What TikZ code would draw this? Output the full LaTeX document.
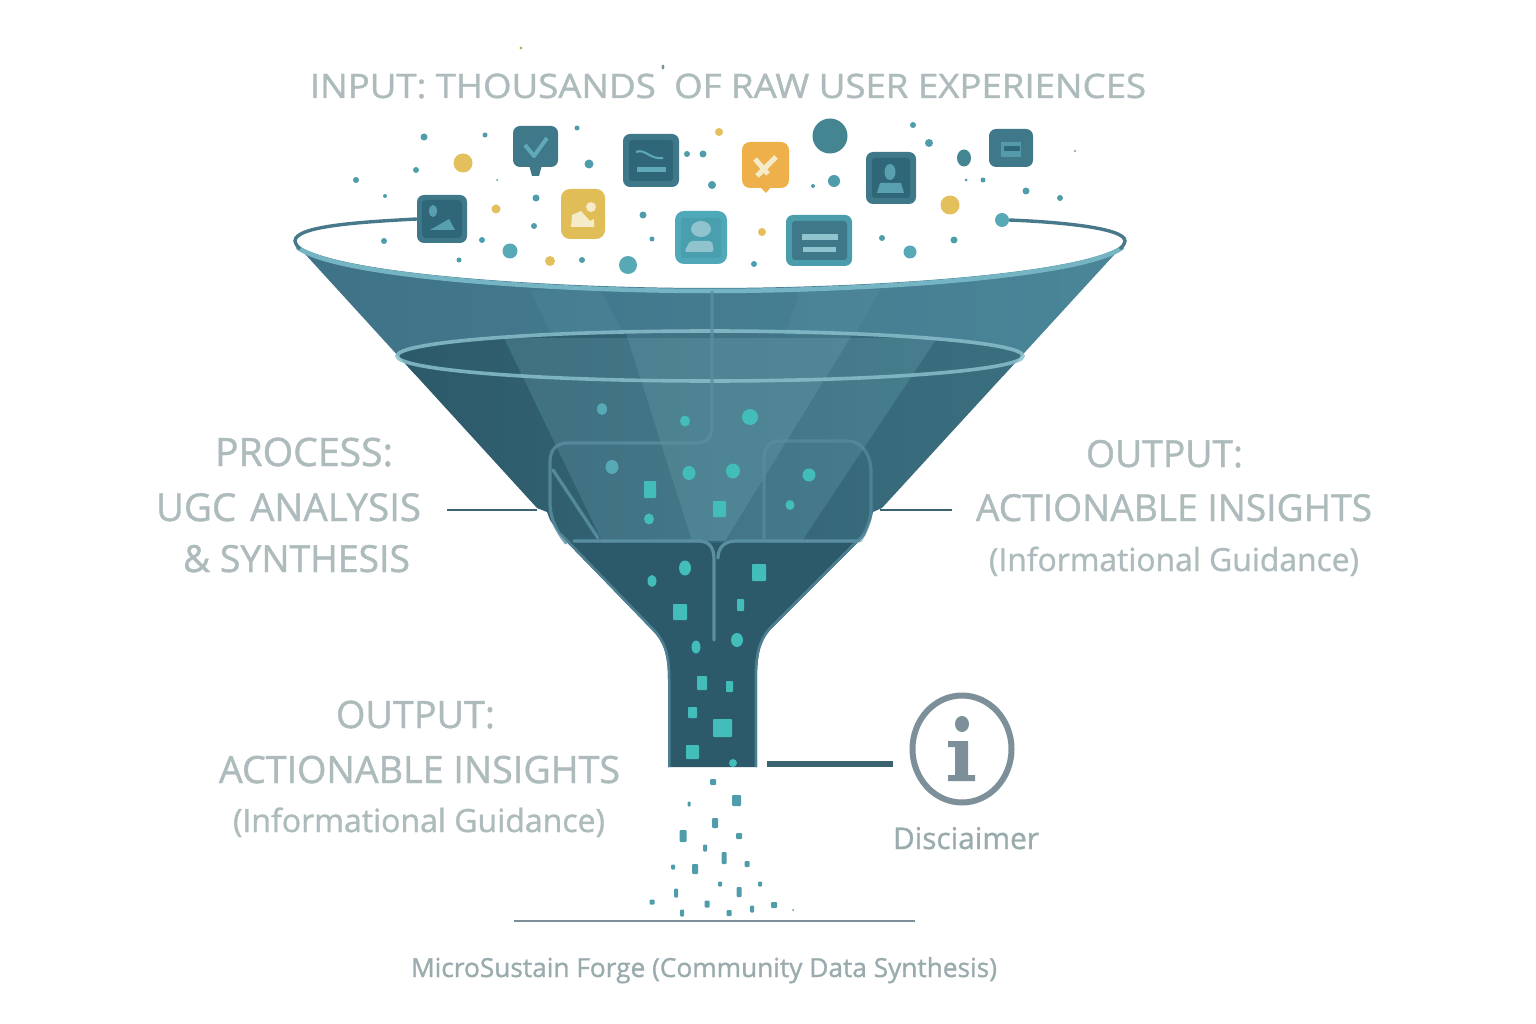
\documentclass[tikz,border=0pt]{standalone}
\usepackage{fontspec}
\usetikzlibrary{shapes.geometric}
\setmainfont{Open Sans}
\newfontfamily\olf[FakeBold=1.1]{Open Sans}
\definecolor{txt}{HTML}{AEBBBC}
\definecolor{txtd}{HTML}{9AABAE}
\definecolor{dotc}{HTML}{4F9DAA}
\definecolor{dotl}{HTML}{58A9B6}
\definecolor{doty}{HTML}{E3C05C}
\definecolor{mint}{HTML}{42BDB9}
\definecolor{rimd}{HTML}{47798B}
\definecolor{riml}{HTML}{74B4C3}
\definecolor{panel}{HTML}{5A8FA1}
\definecolor{deep}{HTML}{2C5A6B}
\definecolor{upL}{HTML}{3F7287}
\definecolor{upM}{HTML}{659CAC}
\definecolor{upR}{HTML}{4A8598}
\definecolor{loL}{HTML}{2D5A6B}
\definecolor{loM}{HTML}{38697B}
\definecolor{loR}{HTML}{3A6F80}
\definecolor{beam}{HTML}{8FD0DC}
\definecolor{ibox}{HTML}{3F7889}
\definecolor{iboxin}{HTML}{2F6778}
\definecolor{iglyph}{HTML}{5FA9B8}
\definecolor{teali}{HTML}{4FA9B8}
\definecolor{tealin}{HTML}{4A9FAE}
\definecolor{yel}{HTML}{E0BD57}
\definecolor{ora}{HTML}{EEB04A}
\definecolor{cream}{HTML}{F5EBC8}
\definecolor{grayi}{HTML}{7D9099}
\definecolor{lead}{HTML}{3B6372}
\newcommand{\lbl}[6]{\node[anchor=base,inner sep=0pt,text=#5] (#1) at (#2,#3) {\resizebox{#4pt}{!}{\olf #6}};}
\tikzset{
  iconbox/.style={rectangle,rounded corners=7pt,inner sep=0pt,draw=none},
  panelline/.style={draw=panel,line width=3.2pt,line cap=round,line join=round},
  leadline/.style={draw=lead,line width=2pt},
}
\begin{document}
\begin{tikzpicture}[x=1pt,y=-1pt]
\useasboundingbox (0,0) rectangle (1536,1024);
\fill[white] (0,0) rectangle (1536,1024);

% funnel body
\def\bodypath{(295,243) .. controls (330,275) and (560,288) .. (710,288) .. controls (860,288) and (1090,275) .. (1125,243)
 -- (882,508) -- (873,512) -- (871,520) -- (865,535) -- (770,630) .. controls (760,642) and (757,655) .. (757,680) -- (757,767) -- (668,767) -- (668,680) .. controls (668,655) and (664,642) .. (652,630)
 -- (560,535) -- (550,520) -- (547,512) -- (537,508) -- cycle}
\begin{scope}
\clip \bodypath;
\shade[left color=upL,middle color=upM,right color=upR] (295,240) rectangle (1125,375);
% lower region below the ring
\begin{scope}
\clip (290,356) -- (397,356) .. controls (397,341.6) and (537,330) .. (710,330) .. controls (883,330) and (1023,341.6) .. (1023,356) -- (1130,356) -- (1130,800) -- (290,800) -- cycle;
\shade[left color=loL,middle color=loM,right color=loR] (400,325) rectangle (1020,560);
% light beams, starting at the far edge of the ring
\fill[beam,opacity=.17] (504,338) -- (937,338) -- (802,541) -- (602,541) -- cycle;
\fill[beam,opacity=.15] (625,330) -- (855,330) -- (725,541) -- (692,541) -- cycle;
\end{scope}
\fill[beam,opacity=.07] (530,290) -- (600,290) -- (625,335) -- (552,335) -- cycle;
\fill[beam,opacity=.07] (800,290) -- (880,290) -- (855,335) -- (785,335) -- cycle;
% dark lower part
\fill[deep] (480,543) rectangle (940,780);
% edge highlight of the lower part
\draw[draw=panel!70!deep,line width=5pt] (560,535) -- (652,630) .. controls (664,642) and (668,655) .. (668,680) -- (668,767);
\draw[draw=panel!70!deep,line width=5pt] (865,535) -- (770,630) .. controls (760,642) and (757,655) .. (757,680) -- (757,767);
\end{scope}

% ring
\draw[draw=riml!85!white,line width=3.6pt,opacity=.85] (710,356) ellipse [x radius=313,y radius=25];
% rim band
\draw[draw=riml,line width=4.5pt] (297,247) .. controls (335,277) and (560,291) .. (710,291) .. controls (860,291) and (1085,277) .. (1123,247);

% inner channels and panels
\draw[panelline,opacity=.8] (712,292) -- (712,425) .. controls (712,437) and (708,443) .. (696,443) -- (568,443) .. controls (556,443) and (550,450) .. (550,462) -- (550,505) .. controls (551,520) and (556,530) .. (566,543);
\draw[panelline,opacity=.9] (553,470) -- (598,538);
\draw[panelline,opacity=.65] (764,538) -- (764,458) .. controls (764,446) and (770,441) .. (782,441) -- (848,441) .. controls (862,441) and (871,455) .. (871,472) -- (871,512) .. controls (870,522) and (866,532) .. (860,541);
\draw[panelline] (574,541) -- (698,541) .. controls (710,541) and (714,548) .. (714,560) -- (714,640);
\draw[panelline] (718,558) .. controls (718,548) and (724,541) .. (736,541) -- (858,541);

% particles inside the funnel
\foreach \x/\y/\rx/\ry in {602/409/5/6, 612/467/6.5/7}
  \fill[dotl] (\x,\y) ellipse [x radius=\rx,y radius=\ry];
\foreach \x/\y/\rx/\ry in {685/421/5/5.5, 750/417/8/8, 689/473/6.5/7, 733/471/7/7.5, 809/475/6.5/6.5, 790/505/4.5/5, 649/519/5/5.5, 685/568/6/7.5, 652/581/4.5/6, 737/640/6/7, 696/647/4.5/6.5}
  \fill[mint] (\x,\y) ellipse [x radius=\rx,y radius=\ry];
\foreach \xa/\ya/\xb/\yb in {644/481/656/498, 713/501/726/517, 752/564/766/581, 673/604/687/620, 737/599/744/611, 697/676/707/690, 726/681/733/692, 688/707/697/718, 713/719/732/737, 686/745/699/759}
  \fill[mint,rounded corners=.8pt] (\xa,\ya) rectangle (\xb,\yb);
\begin{scope}
\clip (668,750) rectangle (757,767);
\fill[mint] (733,763) ellipse [x radius=4,y radius=4];
\end{scope}

% falling particles
\foreach \x/\y/\rx/\ry in {713/782/3/3, 736.5/800.5/4.5/5.5, 689/804/1.5/2.5, 715/823/3/5, 683/836/3.5/6, 739/836/3/3, 705/848/2/3.5, 724/858/2.5/6, 747/864/2.5/3, 673/867/2/2.5, 695/869/3/5, 720/884/2/2.5, 760/884/2/2.5, 676/893/2/4.5, 739/892/2.5/5, 652/902/2.5/2.5, 707/904/2.5/3.5, 682/913/2/3.5, 729/913/2.5/3, 752/909/2/3.5, 774/905/3/3, 793/910/1/1}
  \fill[dotc,rounded corners=1pt] (\x-\rx,\y-\ry) rectangle (\x+\rx,\y+\ry);

% scattered dots
\foreach \x/\y/\r in {424/137/3.5, 485/135/2.5, 577/128/2.5, 416/170/3, 589/164/4.5, 356/180/3, 497/180/1, 385/196/2, 536/198/3.5, 534/226/3, 643/215/3.5, 384/241/3, 482/240/3, 652/239/2.5, 582/260/3, 459/260/2.5, 687/154/3, 703/154/3.5, 712/185/4, 913/125/3, 929/143/4, 834/181/6, 813/186/2, 966/180/1.5, 983/180/2.5, 1026/191/3.5, 1060/198/3, 954/240/3.5, 882/238/3, 754/264/3}
  \fill[dotc] (\x,\y) circle (\r);
\foreach \x/\y/\r in {510/251/7.5, 628/265/9, 910/252/6.5}
  \fill[dotl] (\x,\y) circle (\r);
\foreach \x/\y/\r in {463/163/9.5, 496/209/4.5, 550/261/5, 719/132/4, 950/205/9.5, 762/232/4}
  \fill[doty] (\x,\y) circle (\r);
\fill[dotc!85!black] (830,136) circle (17.5);
\fill[dotc!85!black] (964,158) ellipse [x radius=7,y radius=8.5];
% specks
\fill[doty!70!gray] (521,48) circle (1.6);
\fill[grayi] (663,67) ellipse [x radius=1.4,y radius=2.4];
\fill[grayi!70] (1075,151) circle (1.4);

% rim end strokes tied to icon and dot
\node[circle,fill=dotl,inner sep=0pt,minimum size=14pt] (rimdot) at (1002,220) {};
\node[iconbox,fill=ibox,minimum width=50pt,minimum height=48pt] (iconimg) at (442,219) {};
\draw[draw=rimd,line width=3.4pt] (iconimg.west) .. controls (360,222) and (295,226) .. (295,241) .. controls (296,245) and (298,247) .. (300,249);
\draw[draw=rimd,line width=3.4pt] (rimdot.east) .. controls (1060,222) and (1125,228) .. (1125,241) .. controls (1124,245) and (1122,247) .. (1120,249);

% icon: image
\fill[iboxin,rounded corners=4pt] (422,200) rectangle (462,238);
\fill[iglyph!80!ibox] (433,211) ellipse [x radius=4,y radius=6];
\fill[iglyph!80!ibox] (430,230) -- (449,219) -- (455,230) -- cycle;

% icon: check bubble
\node[iconbox,fill=ibox,minimum width=45pt,minimum height=41pt] (iconchk) at (535.5,146.5) {};
\fill[ibox] (529,165) -- (542,165) -- (539,176) -- (532,176) -- cycle;
\draw[draw=iglyph,line width=4pt,line join=round] (525,145) -- (534,156) -- (547,138);

% icon: document with bar
\node[iconbox,fill=ibox,minimum width=56pt,minimum height=53pt] (icondoc) at (651,160.5) {};
\fill[iboxin,rounded corners=3pt] (629,140) rectangle (673,181);
\draw[draw=iglyph,line width=2pt] (636,152) .. controls (645,148) and (650,160) .. (663,158);
\fill[iglyph] (637,167) rectangle (666,172);

% icon: yellow image
\node[iconbox,fill=yel,minimum width=44pt,minimum height=50pt,rounded corners=9pt] (iconyel) at (583,214) {};
\fill[cream] (591,207) circle (5);
\fill[cream] (571,227) -- (572,215) -- (581,211) -- (590,221) -- (594,219) -- (594,227) -- cycle;

% icon: teal person
\node[iconbox,fill=teali,minimum width=52pt,minimum height=53pt,rounded corners=9pt] (iconteal) at (701,237.5) {};
\fill[tealin,rounded corners=3pt] (681,218) rectangle (721,258);
\fill[iglyph!70!white] (701,229) ellipse [x radius=10,y radius=8];
\fill[iglyph!70!white,rounded corners=3pt] (684,252) -- (690,241) -- (712,241) -- (714,252) -- cycle;

% icon: orange bubble
\node[iconbox,fill=ora,minimum width=47pt,minimum height=46pt,rounded corners=8pt] (iconora) at (765.5,165) {};
\fill[ora] (760,187) -- (771,187) -- (766,193) -- cycle;
\draw[draw=cream,line width=5pt] (755,159) -- (768,174);
\draw[draw=cream,line width=5pt] (776,157) -- (757,176);

% icon: dark person
\node[iconbox,fill=ibox,minimum width=50pt,minimum height=52pt] (iconper) at (891,178) {};
\fill[iboxin,rounded corners=3pt] (872,158) rectangle (910,198);
\fill[iglyph!80!ibox] (890,172) ellipse [x radius=5.5,y radius=8];
\fill[iglyph!80!ibox] (877,193) -- (880,183) -- (901,183) -- (904,193) -- cycle;

% icon: lines
\node[iconbox,fill=teali!75!ibox,minimum width=66pt,minimum height=51pt] (iconlin) at (819,240.5) {};
\fill[ibox,rounded corners=3pt] (792,221) rectangle (847,260);
\fill[iglyph!70!white] (802,234) rectangle (838,240);
\fill[iglyph!70!white] (803,247) rectangle (836,252);

% icon: folder
\node[iconbox,fill=ibox,minimum width=44pt,minimum height=38pt] (iconfol) at (1011,148) {};
\fill[iglyph!70!ibox] (1001,142) rectangle (1021,157);
\fill[iboxin] (1004,146) rectangle (1020,151);

% info icon
\node[ellipse,draw=grayi,line width=6pt,minimum width=99pt,minimum height=107pt,inner sep=0pt] (info) at (962,749) {};
\fill[grayi] (962,724) ellipse [x radius=7,y radius=8];
\fill[grayi] (948,741) -- (968,741) -- (968,775) -- (975,775) -- (975,781) -- (948,781) -- (948,775) -- (955,775) -- (955,747) -- (948,747) -- cycle;

% labels
\node[anchor=base,inner sep=0pt,text=txt] (inputl) at (728,98) {\scalebox{1}[.92]{\resizebox{836pt}{!}{\olf INPUT: THOUSANDS\kern.5em OF RAW USER EXPERIENCES}}};
\lbl{procA}{304}{466}{178}{txt}{PROCESS:}
\lbl{procB}{288.5}{521}{265}{txt}{UGC\kern.1em\ ANALYSIS}
\lbl{procC}{296.5}{572}{227}{txt}{\& SYNTHESIS}
\lbl{outA}{1164.5}{467}{157}{txt}{OUTPUT:}
\lbl{outB}{1174}{521}{396}{txt}{ACTIONABLE INSIGHTS}
\lbl{outC}{1174}{571}{370}{txt}{(Informational Guidance)}
\lbl{outD}{415.5}{728}{159}{txt}{OUTPUT:}
\lbl{outE}{419.5}{783}{401}{txt}{ACTIONABLE INSIGHTS}
\lbl{outF}{419}{832}{372}{txt}{(Informational Guidance)}
\lbl{discl}{966}{849}{146}{txtd}{Disciaimer}
\lbl{brand}{704}{977}{586}{txtd}{MicroSustain Forge (Community Data Synthesis)}

% leader lines
\coordinate (procEnd) at (537,510);
\coordinate (procStart) at (447,510);
\coordinate (outEnd) at (880,510);
\coordinate (outStart) at (952,510);
\coordinate (throat) at (767,764);
\coordinate (baseA) at (514,921);
\coordinate (baseB) at (915,921);
\draw[leadline] (procStart) -- (procEnd);
\draw[leadline] (outEnd) -- (outStart);
\draw[draw=lead,line width=5.5pt,shorten >=16.5pt] (throat) -- (info.west |- throat);
\draw[draw=grayi,line width=1.3pt] (baseA) -- (baseB);
\end{tikzpicture}
\end{document}
